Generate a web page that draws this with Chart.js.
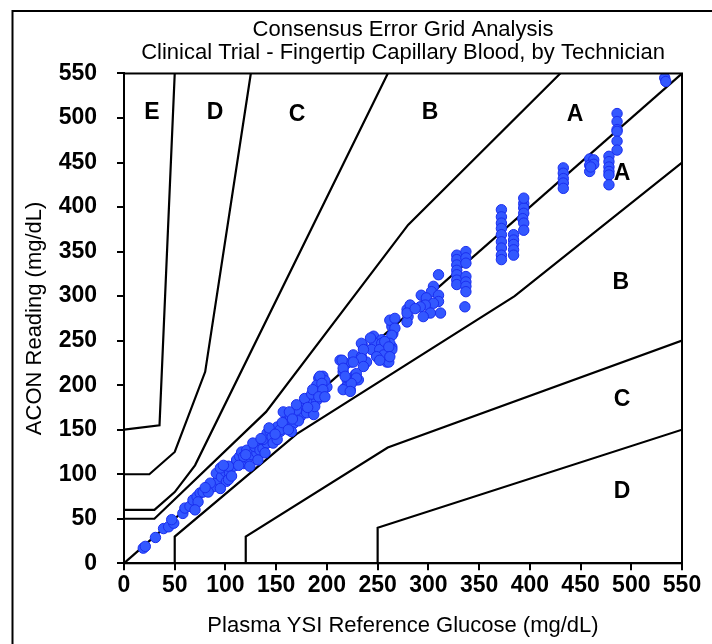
<!DOCTYPE html>
<html><head><meta charset="utf-8">
<script src="https://cdn.jsdelivr.net/npm/chart.js@4.4.0/dist/chart.umd.min.js"></script>
<style>html,body{margin:0;padding:0;background:#fff;}#wrap{width:712px;height:644px;position:relative;}</style>
</head><body><div id="wrap"><canvas id="c" width="712" height="644"></canvas></div>
<script>
const titleLines = ['Consensus Error Grid Analysis', 'Clinical Trial - Fingertip Capillary Blood, by Technician'];
const xAxisTitle = 'Plasma YSI Reference Glucose (mg/dL)';
const yAxisTitle = 'ACON Reading (mg/dL)';
const xTicks = [0,50,100,150,200,250,300,350,400,450,500,550];
const yTicks = [0,50,100,150,200,250,300,350,400,450,500,550];

// Reference (YSI) values
const ysiGlucose = [
19,21,31,39,44,49,47,58,60,65,68,72,75,73,78,70,88,93,91,96,100,101,95,104,103,108,111,114,116,121,118,122,126,124,131,129,134,132,137,141,137,141,144,146,151,154,147,159,160,157,164,167,165,174,177,180,183,187,190,192,193,192,196,200,196,188,
154,151,103,95,118,
85,83,80,98,106,113,120,127,135,139,143,149,156,162,170,172,178,185,181,195,198,190,186,170,163,166,
213,218,216,220,223,218,224,228,229,226,236,234,239,246,249,254,256,249,259,264,265,264,262,267,279,280,279,267,264,262,264,261,247,244,254,252,256,249,252,234,236,234,236,229,231,226,229,224,215,216,218,216,223,193,195,196,192,198,243,257,261,262,
394,394,394,393,394,394,394,
372,372,372,372,372,372,372,372,372,
384,384,384,384,384,
328,328,328,328,328,328,328,
337,337,337,337,337,337,337,
336,310,
305,303,293,298,310,310,305,297,292,312,302,282,279,287,295,
533,534,
486,486,486,486,486,486,
478,478,478,478,478,478,
459,463,459,463,459,460,
433,433,433,433,433
];
// Meter (ACON) readings
const aconReading = [
17,19,29,39,41,45,49,56,62,64,71,75,79,69,80,60,86,94,101,97,103,92,84,101,94,109,116,120,125,127,112,118,122,109,124,131,127,116,129,135,139,146,148,142,153,148,135,152,161,170,165,157,148,165,176,169,180,167,183,191,200,208,210,198,187,176,
150,139,109,107,120,
90,80,85,110,98,110,122,135,140,124,152,145,158,150,172,160,185,190,175,195,205,200,195,178,170,162,
228,223,215,206,195,197,226,212,206,234,243,232,226,255,247,251,240,234,226,243,258,266,273,275,285,277,271,264,256,247,240,226,247,240,247,240,234,232,228,247,240,230,221,213,206,226,208,202,228,219,210,195,193,210,202,195,187,187,253,249,243,232,
404,399,393,387,382,374,410,
397,389,382,376,369,361,354,346,341,
369,363,358,352,346,
346,341,335,329,324,318,313,
350,343,337,322,316,311,305,
288,324,
311,305,301,298,301,294,292,290,288,281,281,290,281,286,277,
545,541,
505,496,487,485,474,464,
457,451,445,440,436,425,
454,453,447,448,440,445,
444,438,432,427,421
];

// Zone boundary lines [x, y]
const identityLine = [[0,0],[550,550]];
const upperA = [[0,50],[30,50],[140,170],[280,380],[430,550]];
const lowerA = [[50,0],[50,30],[170,145],[385,300],[550,450]];
const upperB = [[0,60],[30,60],[50,80],[70,110],[260,550]];
const lowerB = [[120,0],[120,30],[260,130],[550,250]];
const upperC = [[0,100],[25,100],[50,125],[80,215],[125,550]];
const lowerC = [[250,0],[250,40],[550,150]];
const upperD = [[0,150],[35,155],[50,550]];

const zoneLabels = ['E','D','C','B','A','A','B','C','D'];
const zoneLabelX = [27.6,89.7,170.5,301.6,444.6,490.8,489.8,490.8,490.8];
const zoneLabelY = [505.7,505.7,503.5,505.7,503.5,437.2,314.8,183.4,80.1];

const FONT = "'Liberation Sans', Arial, sans-serif";
const toXY = arr => arr.map(p => ({x: p[0], y: p[1]}));
const lineSets = [identityLine, upperA, lowerA, upperB, lowerB, upperC, lowerC, upperD].map(l => ({
  type: 'scatter', data: toXY(l), showLine: true, borderColor: '#000', borderWidth: 2.2,
  pointRadius: 0, fill: false, order: 2, tension: 0
}));

const framePlugin = {
  id: 'frame',
  beforeDraw(chart) {
    const ctx = chart.ctx;
    ctx.save();
    ctx.fillStyle = '#fff';
    ctx.fillRect(0, 0, chart.width, chart.height);
    ctx.strokeStyle = '#000';
    ctx.lineWidth = 2;
    ctx.beginPath();
    ctx.moveTo(12.5, 644);
    ctx.lineTo(12.5, 11);
    ctx.lineTo(712, 11);
    ctx.stroke();
    ctx.restore();
  },
  afterDraw(chart) {
    const ctx = chart.ctx, a = chart.chartArea;
    ctx.save();
    ctx.strokeStyle = '#000';
    ctx.lineWidth = 2;
    ctx.strokeRect(a.left, a.top, a.right - a.left, a.bottom - a.top);
    const xs = chart.scales.x, ys = chart.scales.y;
    ctx.fillStyle = '#000';
    ctx.font = 'bold 23px ' + FONT;
    ctx.textAlign = 'center';
    ctx.textBaseline = 'middle';
    zoneLabels.forEach((t, i) => {
      ctx.fillText(t, xs.getPixelForValue(zoneLabelX[i]), ys.getPixelForValue(zoneLabelY[i]));
    });
    ctx.restore();
  }
};

new Chart(document.getElementById('c'), {
  type: 'scatter',
  data: {
    datasets: [{
      data: ysiGlucose.map((x, i) => ({x: x, y: aconReading[i]})),
      backgroundColor: '#3358ff', borderColor: '#1a2ef0', borderWidth: 1,
      pointRadius: 5.2, order: 0
    }].concat(lineSets)
  },
  options: {
    responsive: false, animation: false, devicePixelRatio: 1,
    events: [],
    layout: {padding: {left: 0, right: 30, top: 0, bottom: 0}},
    plugins: {
      legend: {display: false}, tooltip: {enabled: false},
      title: {
        display: true, text: titleLines, color: '#000', fullSize: false,
        font: {family: FONT, size: 22, weight: 'normal', lineHeight: 1.045},
        padding: {top: 18.5, bottom: 9}
      }
    },
    scales: {
      x: {
        type: 'linear', min: 0, max: 550,
        afterBuildTicks: s => { s.ticks = xTicks.map(v => ({value: v})); },
        afterFit: s => { s.height = 80.7; },
        ticks: {color: '#000', font: {family: FONT, size: 23, weight: 'bold'}, padding: 2, maxRotation: 0, autoSkip: false},
        grid: {drawOnChartArea: false, drawTicks: true, tickLength: 7, color: '#000', lineWidth: 2},
        border: {display: true, color: '#000', width: 2},
        title: {display: true, text: xAxisTitle, color: '#000', font: {family: FONT, size: 22, weight: 'normal'}, padding: {top: 0, bottom: 4.8}}
      },
      y: {
        type: 'linear', min: 0, max: 550,
        afterBuildTicks: s => { s.ticks = yTicks.map(v => ({value: v})); },
        afterFit: s => { s.width = 124; },
        ticks: {color: '#000', font: {family: FONT, size: 23, weight: 'bold'}, padding: 20, autoSkip: false},
        grid: {drawOnChartArea: false, drawTicks: true, tickLength: 7, color: '#000', lineWidth: 2},
        border: {display: true, color: '#000', width: 2},
        title: {display: true, text: yAxisTitle, color: '#000', font: {family: FONT, size: 22, weight: 'normal'}, padding: {top: 21.8, bottom: 0}}
      }
    }
  },
  plugins: [framePlugin]
});
</script></body></html>
